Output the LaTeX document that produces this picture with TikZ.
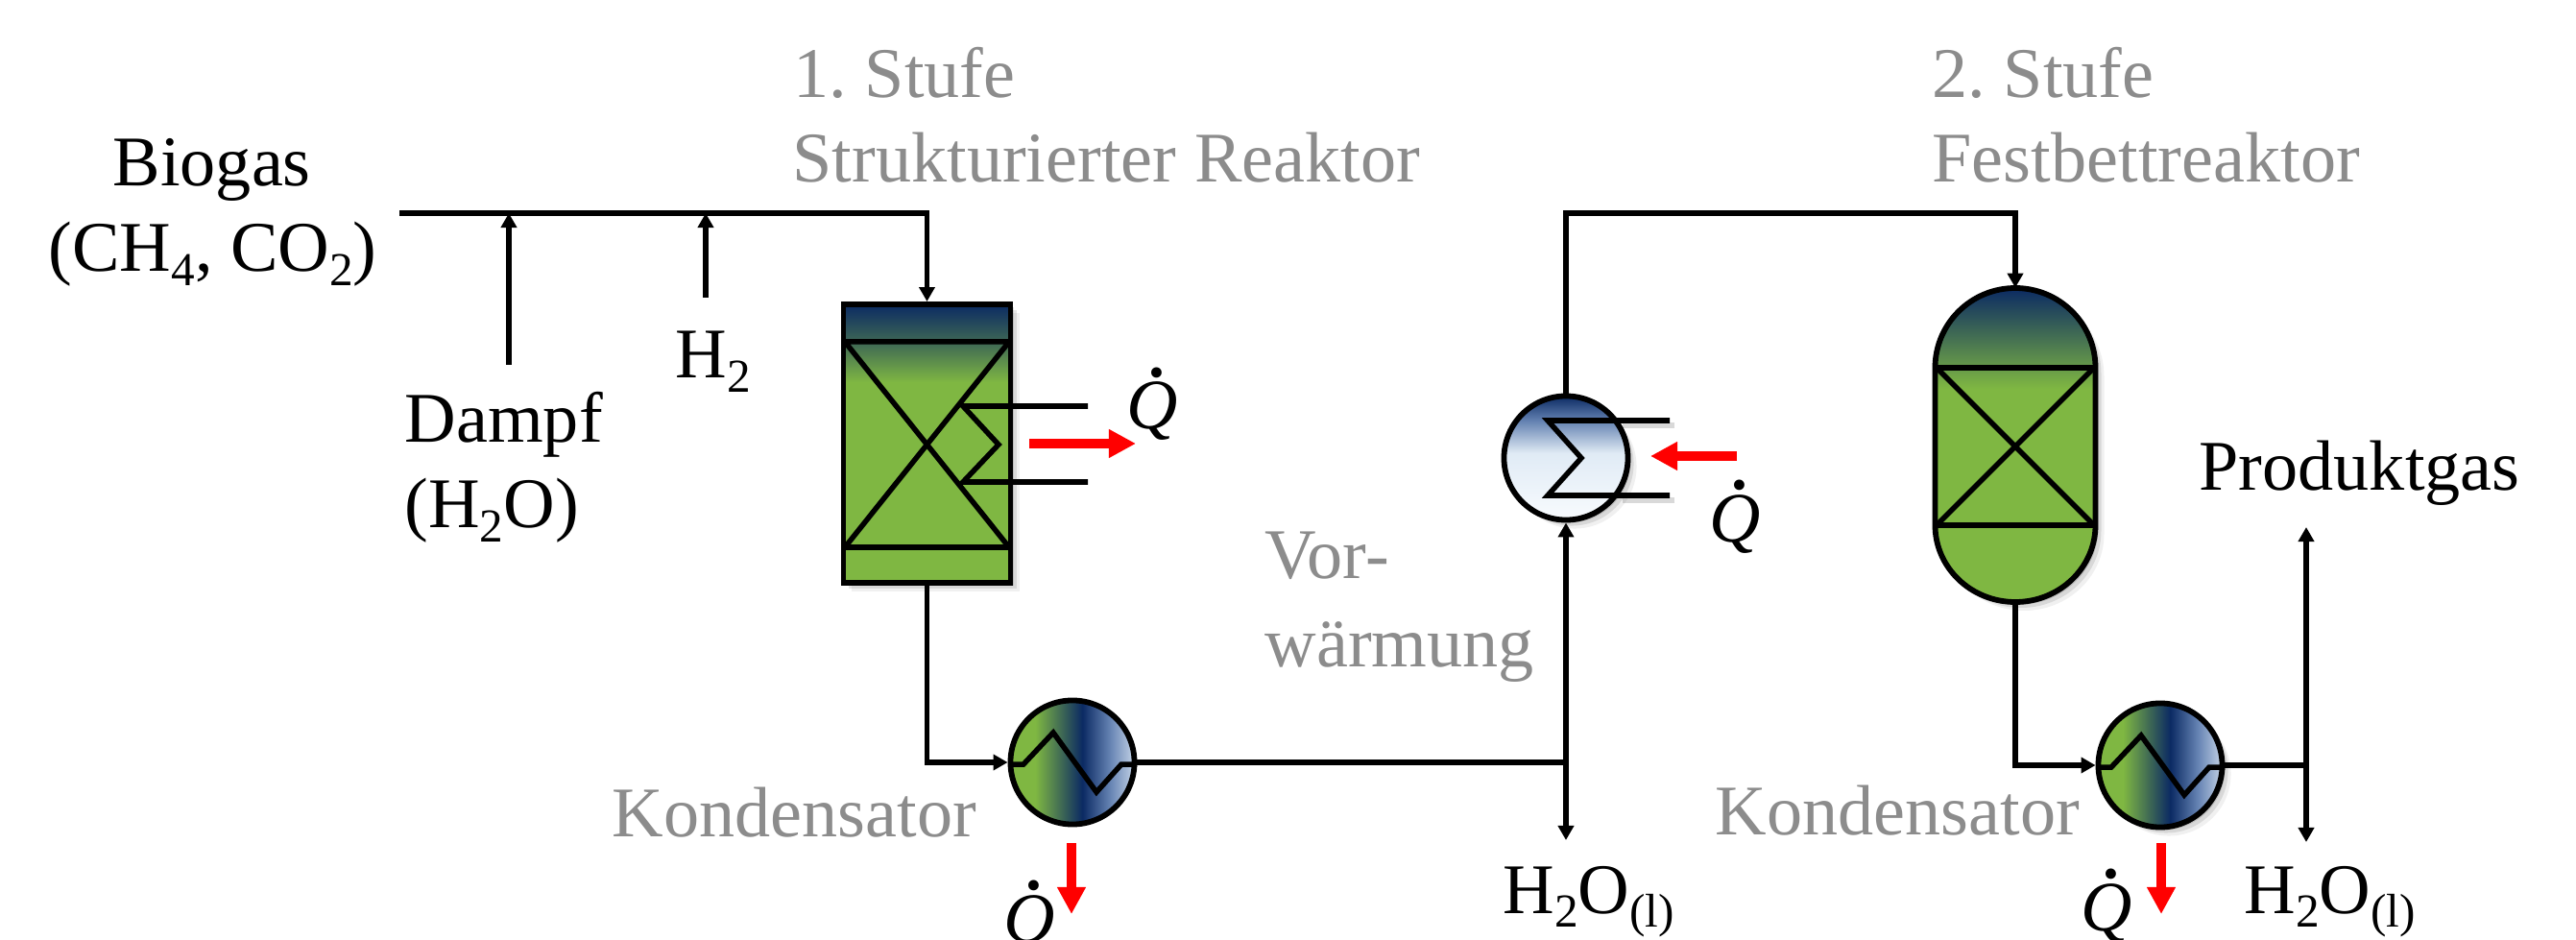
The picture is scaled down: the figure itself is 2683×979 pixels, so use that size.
\documentclass[tikz,border=0pt]{standalone}
\usepackage{fontspec}
\setmainfont{Liberation Serif}
\usetikzlibrary{arrows.meta,shadows}

\definecolor{catgreen}{HTML}{7FB742}
\definecolor{navy}{HTML}{0B2A63}
\definecolor{labelgrey}{HTML}{8C8C8C}
\definecolor{midblue}{HTML}{6482B2}
\definecolor{paleblue}{HTML}{C4D3E6}
\definecolor{iceblue}{HTML}{E0EBF5}
\definecolor{frost}{HTML}{F8FBFE}

\pgfdeclareverticalshading{reactorfill}{100bp}{color(0bp)=(catgreen); color(61bp)=(catgreen); color(68bp)=(catgreen!45!navy); color(75bp)=(navy); color(100bp)=(navy)}
\pgfdeclareverticalshading{vesselfill}{100bp}{color(0bp)=(catgreen); color(59bp)=(catgreen); color(75bp)=(navy); color(100bp)=(navy)}
\pgfdeclarehorizontalshading{condfill}{100bp}{color(0bp)=(catgreen); color(35bp)=(catgreen); color(54bp)=(navy); color(65bp)=(midblue); color(75bp)=(paleblue); color(100bp)=(paleblue)}
\pgfdeclareverticalshading{heaterfill}{100bp}{color(0bp)=(frost); color(25bp)=(frost); color(52bp)=(iceblue); color(65bp)=(midblue); color(75bp)=(navy); color(100bp)=(navy)}

\newcommand{\tiefzahl}[1]{\raisebox{-.2em}{\fontsize{14}{14}\selectfont #1}}
\newcommand{\qpunkt}{\rlap{\hspace{.27em}\raisebox{.74em}{\fontsize{26}{26}\selectfont .}}\textit{Q}}

\begin{document}
\frenchspacing
\begin{tikzpicture}[x=0.01cm, y=-0.01cm, >={Triangle[length=.15cm,width=.16cm]}]
  \tikzset{
  softshadow/.style={
    drop shadow={shadow xshift=.03cm,shadow yshift=-.03cm,opacity=.12,fill=black},
    drop shadow={shadow xshift=.06cm,shadow yshift=-.06cm,opacity=.10,fill=black},
    drop shadow={shadow xshift=.09cm,shadow yshift=-.09cm,opacity=.06,fill=black}
  },
  stream/.style={
    line width=.055cm
  },
  wall/.style={
    draw,
    line width=.058cm
  },
  reactorbox/.style={
    rectangle,
    wall,
    shading=reactorfill,
    softshadow,
    minimum width=1.74cm,
    minimum height=2.90cm
  },
  exchanger/.style={
    circle,
    wall,
    minimum size=1.29cm
  },
  heatflow/.style={
    -{Triangle[length=.28cm,width=.28cm]},
    red,
    line width=.095cm
  },
  blacktext/.style={
    anchor=base west,
    inner sep=0pt,
    font=\fontsize{21.1}{25}\selectfont
  },
  greytext/.style={
    blacktext,
    text=labelgrey
  },
  qtext/.style={
    anchor=base,
    inner sep=0pt,
    font=\fontsize{21}{25}\selectfont
  }
}
\useasboundingbox (0,0) rectangle (2683,979);

% apparatus
\node [reactorbox] (reactor) at (965.5,462) {};
\node [exchanger,shading=condfill] (cond-1) at (1117,794) {};
\node [exchanger,shading=condfill,softshadow] (cond-2) at (2250,797) {};
\node [exchanger,shading=heaterfill,softshadow] (heater) at (1631,477) {};
\node [rectangle,minimum width=1.67cm,minimum height=3.26cm] (vessel) at (2099,463.5) {};

\path [wall,shading=vesselfill,softshadow] (2015.5,383)
  arc [start angle=-180,end angle=0,x radius=83.5,y radius=83]
  -- (2182.5,547)
  arc [start angle=0,end angle=180,x radius=83.5,y radius=80] -- cycle;

% internals
\draw [stream] (878,356) -- (1053,356) (878,570) -- (1053,570)
  (880,356) -- (1051,570) (1051,356) -- (880,570);
\draw [stream] (2015,383) -- (2183,383) (2015,547) -- (2183,547)
  (2017,383) -- (2181,547) (2181,383) -- (2017,547);
\draw [stream] (1133,423) -- (1003,423) -- (1040,463) -- (1003,502) -- (1133,502);

\draw [stream,black,opacity=.15] (1744,443) -- (1690,443) (1744,521) -- (1690,521);
\draw [stream] (1739,438) -- (1612,438) -- (1647,477) -- (1612,516) -- (1739,516);

\foreach \n in {cond-1,cond-2}
  \draw [stream,shift={(\n)}] (-67,2) -- (-51,2) -- (-20,-31) -- (25,31) -- (51,2) -- (67,2);

% stream ends
\coordinate (biogas-in) at (416,222);
\coordinate (dampf-in) at (530,380);
\coordinate (dampf-join) at (530,222);
\coordinate (hydrogen-in) at (735,310);
\coordinate (hydrogen-join) at (735,222);
\coordinate (heater-out) at (1631,222);
\coordinate (water-join) at (1631,794);
\coordinate (water-out) at (1631,875);
\coordinate (product-join) at (2402,797);
\coordinate (product-out) at (2402,549);
\coordinate (condensate-out) at (2402,877);

\draw [stream,->] (biogas-in) -| (reactor.north);
\foreach \s in {dampf,hydrogen}
  \draw [stream,->] (\s-in) -- (\s-join);
\draw [stream,->] (reactor.south) |- (cond-1.west);
\draw [stream] (cond-1.east) -- (water-join);
\draw [stream,->] (water-join) -- (heater.south);
\draw [stream,->] (water-join) -- (water-out);
\draw [stream,->] (heater.north) -- (heater-out) -| (vessel.north);
\draw [stream,->] (vessel.south) |- (cond-2.west);
\draw [stream] (cond-2.east) -- (product-join);
\draw [stream,->] (product-join) -- (product-out);
\draw [stream,->] (product-join) -- (condensate-out);

% heat flows
\foreach \a/\ax/\ay/\b/\bx/\by in {q1s/1072/462/q1e/1183/462, q2s/1809/475/q2e/1719/475, q3s/1116/878/q3e/1116/952, q4s/2251/878/q4e/2251/952} {
  \coordinate (\a) at (\ax,\ay);
  \coordinate (\b) at (\bx,\by);
  \draw [heatflow] (\a) -- (\b);
}

% labels
\foreach \px/\py [count=\i] in {1200/447, 1807/564, 1072/981, 2194/969}
  \node [qtext] (heat-\i) at (\px,\py) {\qpunkt};

\node [greytext] (stage-1) at (826,102) {1. Stufe};
\node [greytext] (stage-1b) at (825,190) {Strukturierter Reaktor};
\node [greytext] (stage-2) at (2012,102) {2. Stufe};
\node [greytext] (stage-2b) at (2012,190) {Festbettreaktor};
\node [greytext] (preheat-a) at (1317,603) {Vor-};
\node [greytext] (preheat-b) at (1317,694) {wärmung};
\node [greytext] (kond-1) at (637,871) {Kondensator};
\node [greytext] (kond-2) at (1786,869) {Kondensator};

\node [blacktext] (biogas) at (117,194) {Biogas};
\node [blacktext] (biogas-b) at (50,283) {(CH\tiefzahl{4}, CO\tiefzahl{2})};
\node [blacktext] (dampf) at (421,461) {Dampf};
\node [blacktext] (dampf-b) at (421,550) {(H\tiefzahl{2}O)};
\node [blacktext] (hydrogen) at (703,394) {H\tiefzahl{2}};
\node [blacktext] (product) at (2290,511) {Produktgas};
\node [blacktext] (water-1) at (1565,951) {H\tiefzahl{2}O\tiefzahl{(l)}};
\node [blacktext] (water-2) at (2337,951) {H\tiefzahl{2}O\tiefzahl{(l)}};
\end{tikzpicture}
\end{document}
